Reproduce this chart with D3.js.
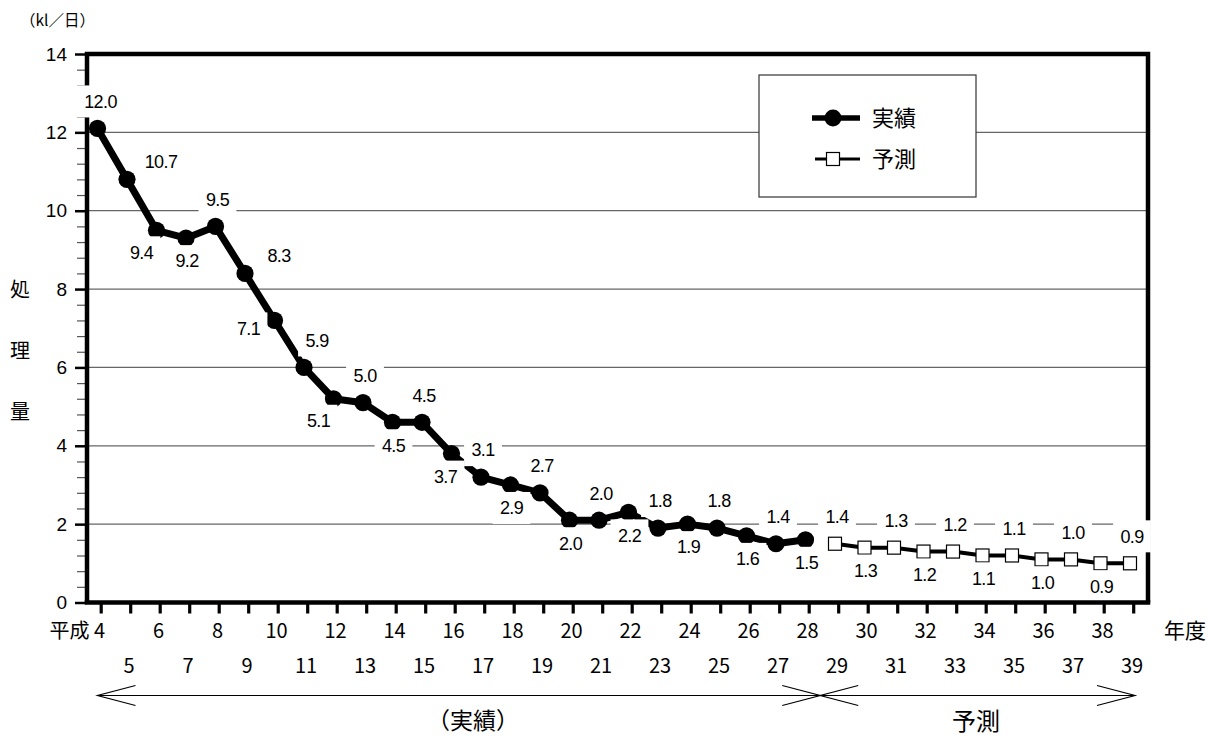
<!DOCTYPE html>
<html>
<head>
<meta charset="utf-8">
<script src="https://cdn.jsdelivr.net/npm/d3@7"></script>
<style>
  body { margin: 0; background: #fff; }
  svg { display: block; }
  .num { font-family: "Liberation Sans", Arial, sans-serif; }
  .jp { font-family: "Noto Sans CJK JP", sans-serif; }
</style>
</head>
<body>
<div id="chart"></div>
<script>
// 年度（平成）
var years = [4,5,6,7,8,9,10,11,12,13,14,15,16,17,18,19,20,21,22,23,24,25,26,27,28,29,30,31,32,33,34,35,36,37,38,39];

// 実績
var actualYears = [4,5,6,7,8,9,10,11,12,13,14,15,16,17,18,19,20,21,22,23,24,25,26,27,28];
var actualValues = [12.1,10.8,9.5,9.3,9.6,8.4,7.2,6.0,5.2,5.1,4.6,4.6,3.8,3.2,3.0,2.8,2.1,2.1,2.3,1.9,2.0,1.9,1.7,1.5,1.6];
var actualLabels = ['12.0','10.7','9.4','9.2','9.5','8.3','7.1','5.9','5.1','5.0','4.5','4.5','3.7','3.1','2.9','2.7','2.0','2.0','2.2','1.8','1.9','1.8','1.6','1.4','1.5'];
var actualPlace = ['n','ne','sw','s','n','ne','w','nr','sw','n','s','n','sl','n','s','n','s','n','s','n','s','n','s','n','s'];

// 予測
var forecastYears = [29,30,31,32,33,34,35,36,37,38,39];
var forecastValues = [1.5,1.4,1.4,1.3,1.3,1.2,1.2,1.1,1.1,1.0,1.0];
var forecastLabels = ['1.4','1.3','1.3','1.2','1.2','1.1','1.1','1.0','1.0','0.9','0.9'];
var forecastPlace = ['n','s','n','s','n','s','n','s','n','s','n'];

var yTicks = [0,2,4,6,8,10,12,14];
var evenYearLabels = ['4','6','8','10','12','14','16','18','20','22','24','26','28','30','32','34','36','38'];
var oddYearLabels = ['5','7','9','11','13','15','17','19','21','23','25','27','29','31','33','35','37','39'];

var w = 1208, h = 740;
var pLeft = 87, pRight = 1148, pTop = 54, pBottom = 602.5;

var svg = d3.select('#chart').append('svg')
  .attr('width', w)
  .attr('height', h);

var x = d3.scalePoint().domain(years).range([97.5, 1130]);
var y = d3.scaleLinear().domain([0, 14]).range([pBottom, pTop]);

// grid lines
svg.append('g').selectAll('line')
  .data(yTicks.filter(function(d){ return d > 0 && d < 14; }))
  .enter().append('line')
  .attr('x1', pLeft).attr('x2', pRight)
  .attr('y1', function(d){ return y(d); })
  .attr('y2', function(d){ return y(d); })
  .attr('stroke', '#666')
  .attr('stroke-width', 1.2);

// minor y ticks
var minor = d3.range(0, 14.001, 0.4).filter(function(d){ return Math.abs(d / 2 - Math.round(d / 2)) > 0.01; });
svg.append('g')
  .attr('transform', 'translate(' + pLeft + ',0)')
  .call(d3.axisLeft(y).tickValues(minor).tickSize(10).tickFormat(''))
  .call(function(g){
    g.select('.domain').remove();
    g.selectAll('line').attr('stroke', '#555').attr('stroke-width', 1.2);
  });

// major y ticks
svg.append('g')
  .attr('transform', 'translate(' + pLeft + ',0)')
  .call(d3.axisLeft(y).tickValues(yTicks).tickSize(12).tickPadding(8).tickFormat(d3.format('d')))
  .call(function(g){
    g.select('.domain').remove();
    g.selectAll('line').attr('stroke', '#000').attr('stroke-width', 2.5);
    g.selectAll('text').attr('class', 'num').attr('font-size', 19).attr('fill', '#000');
  });

// x ticks
svg.append('g')
  .attr('transform', 'translate(3.2,' + pBottom + ')')
  .call(d3.axisBottom(x).tickSize(11).tickPadding(0).tickFormat(''))
  .call(function(g){
    g.select('.domain').remove();
    g.selectAll('line').attr('stroke', '#000').attr('stroke-width', 3.2);
  });

var even = years.filter(function(d){ return d % 2 === 0; });
var odd = years.filter(function(d){ return d % 2 === 1; });
svg.append('g').selectAll('text')
  .data(even).enter().append('text')
  .attr('class', 'jp')
  .attr('x', function(d){ return x(d) + 2; })
  .attr('y', 638)
  .attr('text-anchor', 'middle')
  .attr('font-size', 20)
  .text(function(d, i){ return evenYearLabels[i]; });
svg.append('g').selectAll('text')
  .data(odd).enter().append('text')
  .attr('class', 'jp')
  .attr('x', function(d){ return x(d) + 2; })
  .attr('y', 673)
  .attr('text-anchor', 'middle')
  .attr('font-size', 20)
  .text(function(d, i){ return oddYearLabels[i]; });
svg.append('text').attr('class', 'jp')
  .attr('x', x(4) - 8).attr('y', 638)
  .attr('text-anchor', 'end').attr('font-size', 20)
  .text('平成');
svg.append('text').attr('class', 'jp')
  .attr('x', 1164).attr('y', 638)
  .attr('font-size', 21)
  .text('年度');

// lines
var actualData = actualYears.map(function(d, i){ return {year: d, value: actualValues[i], label: actualLabels[i], place: actualPlace[i]}; });
var forecastData = forecastYears.map(function(d, i){ return {year: d, value: forecastValues[i], label: forecastLabels[i], place: forecastPlace[i]}; });

var line = d3.line()
  .x(function(d){ return x(d.year); })
  .y(function(d){ return y(d.value); });

svg.append('path').datum(actualData)
  .attr('d', line)
  .attr('fill', 'none')
  .attr('stroke', '#000')
  .attr('stroke-width', 7)
  .attr('stroke-linejoin', 'round');

svg.append('g').selectAll('circle')
  .data(actualData).enter().append('circle')
  .attr('cx', function(d){ return x(d.year); })
  .attr('cy', function(d){ return y(d.value); })
  .attr('r', 8.6)
  .attr('fill', '#000');

svg.append('path').datum(forecastData)
  .attr('d', line)
  .attr('fill', 'none')
  .attr('stroke', '#000')
  .attr('stroke-width', 4);

svg.append('g').selectAll('rect')
  .data(forecastData).enter().append('rect')
  .attr('x', function(d){ return x(d.year) - 6.5; })
  .attr('y', function(d){ return y(d.value) - 6.5; })
  .attr('width', 13).attr('height', 13)
  .attr('fill', '#fff')
  .attr('stroke', '#000')
  .attr('stroke-width', 1.2);

// plot frame (left, top, right)
svg.append('path')
  .attr('d', 'M' + pLeft + ',' + pBottom + 'V' + pTop + 'H' + pRight + 'V' + pBottom)
  .attr('fill', 'none')
  .attr('stroke', '#000')
  .attr('stroke-width', 4.5);

// data labels with white boxes
var offsets = {
  n: [2, -27], s: [1, 23], ne: [34, -18], sw: [-15, 22],
  w: [-26, 8], nr: [13, -27], sl: [-6, 23]
};
var labelG = svg.append('g');
actualData.concat(forecastData).forEach(function(d, i){
  var o = offsets[d.place];
  if (i === 0) o = [3, -27];
  var cx = x(d.year) + o[0];
  var cy = y(d.value) + o[1];
  var g = labelG.append('g');
  var t = g.append('text')
    .attr('class', 'num')
    .attr('x', cx).attr('y', cy)
    .attr('text-anchor', 'middle')
    .attr('dy', '0.35em')
    .attr('font-size', 18)
    .attr('letter-spacing', -0.6)
    .text(d.label);
  var bw = t.node().getBBox().width + 14;
  g.insert('rect', 'text')
    .attr('x', cx - bw / 2).attr('y', cy - 16)
    .attr('width', bw).attr('height', 32)
    .attr('fill', '#fff');
});

// category axis line on top of labels
svg.append('line')
  .attr('x1', pLeft - 2.25).attr('x2', pRight + 2.25)
  .attr('y1', pBottom).attr('y2', pBottom)
  .attr('stroke', '#000')
  .attr('stroke-width', 4.5);

// legend
var lg = svg.append('g');
lg.append('rect')
  .attr('x', 759).attr('y', 75)
  .attr('width', 217).attr('height', 122)
  .attr('fill', '#fff')
  .attr('stroke', '#333')
  .attr('stroke-width', 1.2);
lg.append('line').attr('x1', 812).attr('x2', 860).attr('y1', 118).attr('y2', 118)
  .attr('stroke', '#000').attr('stroke-width', 5.5);
lg.append('circle').attr('cx', 833).attr('cy', 118).attr('r', 8.5).attr('fill', '#000');
lg.append('line').attr('x1', 815).attr('x2', 860).attr('y1', 159).attr('y2', 159)
  .attr('stroke', '#000').attr('stroke-width', 3);
lg.append('rect').attr('x', 826.5).attr('y', 152.5).attr('width', 13).attr('height', 13)
  .attr('fill', '#fff').attr('stroke', '#000').attr('stroke-width', 1.2);
lg.append('text').attr('class', 'jp').attr('x', 872).attr('y', 118).attr('dy', '0.36em')
  .attr('font-size', 22).text('実績');
lg.append('text').attr('class', 'jp').attr('x', 872).attr('y', 159).attr('dy', '0.36em')
  .attr('font-size', 22).text('予測');

// unit and axis title
svg.append('text').attr('class', 'jp')
  .attr('x', 20).attr('y', 26)
  .attr('font-size', 15.5)
  .text('（kl／日）');
['処', '理', '量'].forEach(function(c, i){
  svg.append('text').attr('class', 'jp')
    .attr('x', 20).attr('y', 290 + i * 61)
    .attr('dy', '0.36em')
    .attr('text-anchor', 'middle')
    .attr('font-size', 20)
    .text(c);
});

// period arrows
var ay = 695.5;
var tipL = x(4), tipM = (x(28) + x(29)) / 2, tipR = x(39) + 5;
var ag = svg.append('g').attr('stroke', '#000').attr('stroke-width', 1.2).attr('fill', 'none');
ag.append('line').attr('x1', tipL).attr('x2', tipR).attr('y1', ay).attr('y2', ay);
function head(tip, dir) {
  ag.append('path')
    .attr('d', 'M' + (tip + dir * 38) + ',' + (ay - 10) + 'L' + tip + ',' + ay + 'L' + (tip + dir * 38) + ',' + (ay + 10));
}
head(tipL, 1);
head(tipM, -1);
head(tipM, 1);
head(tipR, -1);

svg.append('text').attr('class', 'jp')
  .attr('x', 473).attr('y', 721).attr('dy', '0.36em')
  .attr('text-anchor', 'middle').attr('font-size', 23)
  .text('（実績）');
svg.append('text').attr('class', 'jp')
  .attr('x', 976).attr('y', 721).attr('dy', '0.36em')
  .attr('text-anchor', 'middle').attr('font-size', 24)
  .text('予測');
</script>
</body>
</html>
